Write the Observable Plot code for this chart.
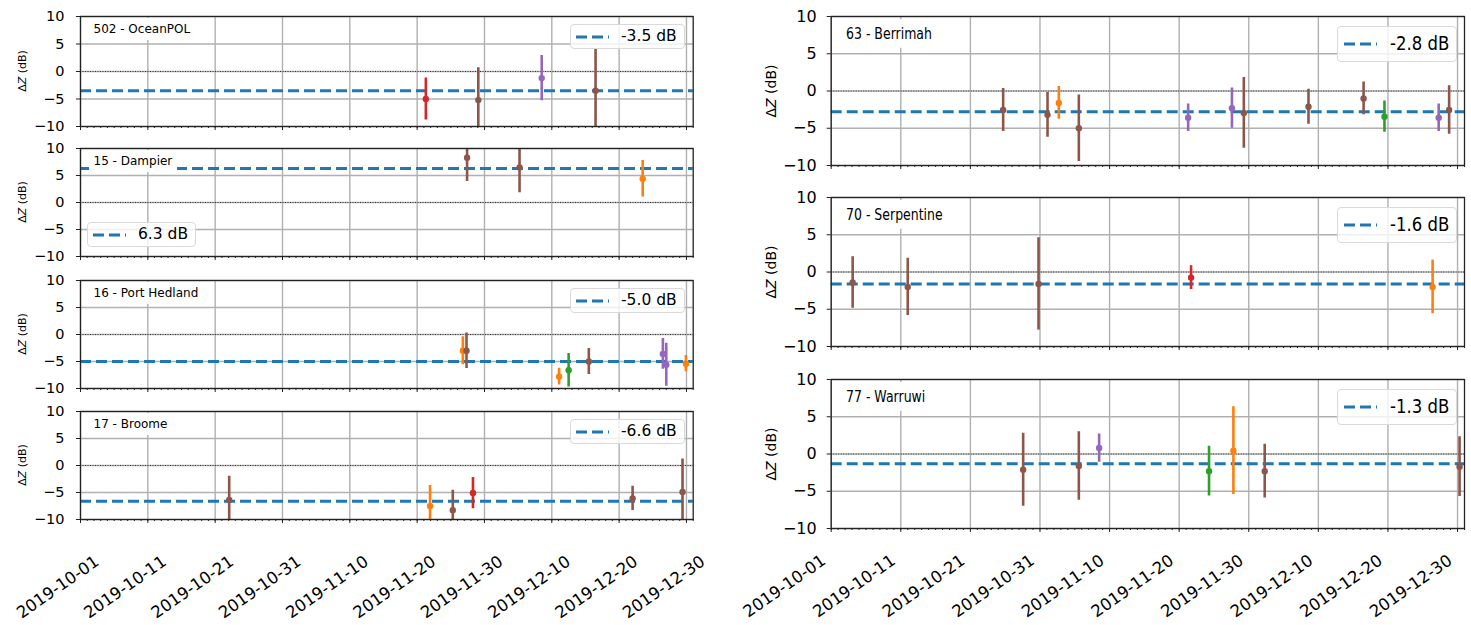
<!DOCTYPE html>
<html>
<head>
<meta charset="utf-8">
<script src="https://cdn.jsdelivr.net/npm/d3@7"></script>
<script src="https://cdn.jsdelivr.net/npm/@observablehq/plot@0.6"></script>
<style>
  body { margin: 0; background: #fff; }
  #root { position: relative; width: 1471px; height: 625px; overflow: hidden; font-family: "DejaVu Sans", sans-serif; color: #000; }
  #root svg { overflow: visible; }
  .lab { position: absolute; background: #fff; white-space: nowrap; }
  .leg { position: absolute; box-sizing: border-box; display: flex; align-items: center; background: rgba(255,255,255,0.8); border: 1px solid #d9d9d9; border-radius: 4px; white-space: nowrap; }
  .ylab { position: absolute; transform: translate(-50%, -50%) rotate(-90deg); white-space: nowrap; }
</style>
</head>
<body>
<div id="root"></div>
<script>
// ---------------- DATA ----------------
const xStart = "2019-10-01";
const xEnd = "2019-12-31";
const majorTickDates = ["2019-10-01","2019-10-11","2019-10-21","2019-10-31","2019-11-10","2019-11-20","2019-11-30","2019-12-10","2019-12-20","2019-12-30"];
const yTicks = [-10, -5, 0, 5, 10];
const palette = { red: "#d62728", brown: "#8c564b", purple: "#9467bd", orange: "#ff7f0e", green: "#2ca02c" };

const stationNames = ["502 - OceanPOL", "15 - Dampier", "16 - Port Hedland", "17 - Broome", "63 - Berrimah", "70 - Serpentine", "77 - Warruwi"];
const meanOffsets = [-3.5, 6.3, -5.0, -6.6, -2.8, -1.6, -1.3];
const meanLabels = ["-3.5 dB", "6.3 dB", "-5.0 dB", "-6.6 dB", "-2.8 dB", "-1.6 dB", "-1.3 dB"];

// 502 - OceanPOL
const oceanpolTimes = ["2019-11-21T07:00", "2019-11-29T02:00", "2019-12-08T12:00", "2019-12-16T12:00"];
const oceanpolDZ    = [-5.0, -5.2, -1.2, -3.5];
const oceanpolErr   = [3.8, 5.9, 4.1, 7.5];
const oceanpolCat   = ["red", "brown", "purple", "brown"];

// 15 - Dampier
const dampierTimes = ["2019-11-27T10:00", "2019-12-05T05:00", "2019-12-23T12:00"];
const dampierDZ    = [8.3, 6.5, 4.4];
const dampierErr   = [4.4, 4.7, 3.4];
const dampierCat   = ["brown", "brown", "orange"];

// 16 - Port Hedland
const porthedlandTimes = ["2019-11-26T19:00", "2019-11-27T08:00", "2019-12-11T02:00", "2019-12-12T12:00", "2019-12-15T12:00", "2019-12-26T12:00", "2019-12-27T00:00", "2019-12-29T22:00"];
const porthedlandDZ    = [-3.0, -3.0, -7.8, -6.6, -5.0, -3.6, -5.6, -5.4];
const porthedlandErr   = [2.6, 3.3, 1.55, 3.1, 2.4, 2.85, 4.0, 1.5];
const porthedlandCat   = ["orange", "brown", "orange", "green", "brown", "purple", "purple", "orange"];

// 17 - Broome
const broomeTimes = ["2019-10-23T02:00", "2019-11-21T22:00", "2019-11-25T07:00", "2019-11-28T07:00", "2019-12-22T00:00", "2019-12-29T10:00"];
const broomeDZ    = [-6.4, -7.5, -8.3, -5.1, -6.1, -4.9];
const broomeErr   = [4.4, 3.8, 3.7, 2.9, 2.25, 6.1];
const broomeCat   = ["brown", "orange", "brown", "red", "brown", "brown"];

// 63 - Berrimah
const berrimahTimes = ["2019-10-25T17:00", "2019-11-01T02:00", "2019-11-02T17:00", "2019-11-05T14:00", "2019-11-21T07:00", "2019-11-27T14:00", "2019-11-29T07:00", "2019-12-08T14:00", "2019-12-16T12:00", "2019-12-19T12:00", "2019-12-27T07:00", "2019-12-28T19:00"];
const berrimahDZ    = [-2.55, -3.2, -1.6, -5.0, -3.6, -2.3, -2.95, -2.1, -1.0, -3.45, -3.6, -2.55];
const berrimahErr   = [2.9, 3.0, 2.2, 4.45, 1.85, 2.7, 4.75, 2.35, 2.2, 2.1, 1.85, 3.25];
const berrimahCat   = ["brown", "brown", "orange", "brown", "purple", "purple", "brown", "brown", "brown", "green", "purple", "brown"];

// 70 - Serpentine
const serpentineTimes = ["2019-10-04T02:00", "2019-10-12T00:00", "2019-10-30T19:00", "2019-11-21T17:00", "2019-12-26T10:00"];
const serpentineDZ    = [-1.4, -2.0, -1.6, -0.75, -2.0];
const serpentineErr   = [3.45, 3.85, 6.2, 1.6, 3.6];
const serpentineCat   = ["brown", "brown", "brown", "red", "orange"];

// 77 - Warruwi
const warruwiTimes = ["2019-10-28T14:00", "2019-11-05T14:00", "2019-11-08T12:00", "2019-11-24T07:00", "2019-11-27T19:00", "2019-12-02T07:00", "2019-12-30T07:00"];
const warruwiDZ    = [-2.1, -1.6, 0.8, -2.3, 0.45, -2.3, -1.7];
const warruwiErr   = [4.9, 4.6, 1.9, 3.35, 5.9, 3.6, 4.0];
const warruwiCat   = ["brown", "brown", "purple", "green", "orange", "brown", "brown"];

// ---------------- LAYOUT ----------------
const D = s => new Date(s.length === 10 ? s + "T00:00:00Z" : s + ":00Z");
const majorDates = majorTickDates.map(D);
const minorDates = d3.utcDay.range(D(xStart), d3.utcDay.offset(D(xEnd), 1));
const fmtDate = d3.utcFormat("%Y-%m-%d");
const fmtY = d => d < 0 ? "\u2212" + (-d) : String(d);

const panels = [
  { side: "L", top: 16,  h: 110, times: oceanpolTimes,    dz: oceanpolDZ,    err: oceanpolErr,    cat: oceanpolCat,    legend: "tr" },
  { side: "L", top: 148, h: 108, times: dampierTimes,     dz: dampierDZ,     err: dampierErr,     cat: dampierCat,     legend: "bl" },
  { side: "L", top: 280, h: 108, times: porthedlandTimes, dz: porthedlandDZ, err: porthedlandErr, cat: porthedlandCat, legend: "tr" },
  { side: "L", top: 411, h: 108, times: broomeTimes,      dz: broomeDZ,      err: broomeErr,      cat: broomeCat,      legend: "tr", bottom: true },
  { side: "R", top: 16,  h: 149, times: berrimahTimes,    dz: berrimahDZ,    err: berrimahErr,    cat: berrimahCat,    legend: "tr" },
  { side: "R", top: 197, h: 149, times: serpentineTimes,  dz: serpentineDZ,  err: serpentineErr,  cat: serpentineCat,  legend: "tr" },
  { side: "R", top: 379, h: 149, times: warruwiTimes,     dz: warruwiDZ,     err: warruwiErr,     cat: warruwiCat,     legend: "tr", bottom: true }
];

const root = document.getElementById("root");

function dashSvg() {
  return `<svg width="33" height="6" style="flex:none;overflow:visible"><line x1="0" y1="3" x2="33" y2="3" stroke="#1f77b4" stroke-width="3" stroke-dasharray="11,5"/></svg>`;
}

panels.forEach((p, i) => {
  const isL = p.side === "L";
  const svgLeft = isL ? 0 : 740;
  const W = isL ? 700 : 731;
  const mL = isL ? 80 : 90.7;
  const mR = isL ? 7.3 : 7;
  const mT = 10;
  const mB = p.bottom ? 625 - (p.top + p.h) : 10;
  const rows = p.times.map((t, k) => ({ t: D(t), v: p.dz[k], e: p.err[k], c: p.cat[k] }));

  const chart = Plot.plot({
    width: W,
    height: p.h + mT + mB,
    marginLeft: mL,
    marginRight: mR,
    marginTop: mT,
    marginBottom: mB,
    x: { type: "utc", domain: [D(xStart), D(xEnd)] },
    y: { domain: [-10, 10] },
    color: { type: "identity" },
    style: { fontFamily: "DejaVu Sans, sans-serif", background: "transparent", overflow: "visible", color: "#000" },
    marks: [
      Plot.gridX(majorDates, { stroke: "#b0b0b0", strokeOpacity: 1, strokeWidth: 1.4 }),
      Plot.gridY(yTicks, { stroke: "#b0b0b0", strokeOpacity: 1, strokeWidth: 1.4 }),
      Plot.ruleY([0], { stroke: "#333", strokeWidth: 1, strokeDasharray: "1,1.5" }),
      Plot.ruleY([meanOffsets[i]], { stroke: "#1f77b4", strokeWidth: 3, strokeDasharray: "11,5" }),
      Plot.ruleX(rows, { x: "t", y1: d => d.v - d.e, y2: d => d.v + d.e, stroke: d => palette[d.c], strokeWidth: 2.6, clip: true }),
      Plot.dot(rows, { x: "t", y: "v", r: 3.2, fill: d => palette[d.c], stroke: "none", clip: true }),
      Plot.frame({ stroke: "#222", strokeWidth: 1.3 }),
      Plot.axisY(yTicks, { tickSize: 4, tickPadding: isL ? 12 : 10.5, tickFormat: fmtY, fontSize: isL ? 14.5 : 16, label: null, stroke: "#222" }),
      Plot.axisX(minorDates, { tickSize: 2, fill: "none", label: null, stroke: "#222" }),
      Plot.axisX(majorDates, { tickSize: 4, fill: "none", label: null, stroke: "#222" }),
      p.bottom ? Plot.text(majorDates, {
        x: d => d, text: d => fmtDate(d), frameAnchor: "bottom",
        dy: isL ? 35 : 25, dx: isL ? 13 : -11,
        rotate: -35, textAnchor: "end", lineAnchor: "top", fontSize: 16.5, fill: "#000"
      }) : null
    ]
  });
  chart.style.position = "absolute";
  chart.style.left = svgLeft + "px";
  chart.style.top = (p.top - mT) + "px";
  root.appendChild(chart);

  // y label
  const yl = document.createElement("div");
  yl.className = "ylab";
  yl.style.left = (isL ? 21.5 : 771) + "px";
  yl.style.top = (p.top + p.h / 2) + "px";
  yl.style.fontSize = (isL ? 11 : 14) + "px";
  yl.innerHTML = "\u0394<i>Z</i> (dB)";
  root.appendChild(yl);

  // station label
  const lab = document.createElement("div");
  lab.className = "lab";
  lab.textContent = stationNames[i];
  if (isL) {
    lab.style.left = "88.5px";
    lab.style.top = (p.top + 1.9) + "px";
    lab.style.fontSize = "12px";
    lab.style.lineHeight = "14px";
    lab.style.padding = "4px 5px";
  } else {
    lab.style.left = "840px";
    lab.style.top = (p.top + 3.25) + "px";
    lab.style.fontSize = "12.5px";
    lab.style.lineHeight = "15px";
    lab.style.padding = "4px 6px";
    lab.style.transformOrigin = "0 0";
    lab.style.transform = "scale(1, 1.25)";
  }
  root.appendChild(lab);

  // legend
  const leg = document.createElement("div");
  leg.className = "leg";
  if (isL) {
    leg.style.height = "25px";
    leg.style.padding = "0 7px 0 5px";
    if (p.legend === "bl") {
      leg.style.left = "87px";
      leg.style.top = (p.top + 74) + "px";
    } else {
      leg.style.left = "570px";
      leg.style.top = (p.top + 8) + "px";
    }
    leg.innerHTML = dashSvg() + `<span style="margin-left:12px;font-size:15.5px;line-height:1">${meanLabels[i]}</span>`;
  } else {
    leg.style.height = "36px";
    leg.style.padding = "0 7px 0 6px";
    leg.style.left = "1337px";
    leg.style.top = (p.top + 10) + "px";
    leg.innerHTML = dashSvg() + `<span style="margin-left:13px;font-size:16.5px;line-height:1;display:inline-block;transform:scale(1,1.15)">${meanLabels[i]}</span>`;
  }
  root.appendChild(leg);
});
</script>
</body>
</html>
